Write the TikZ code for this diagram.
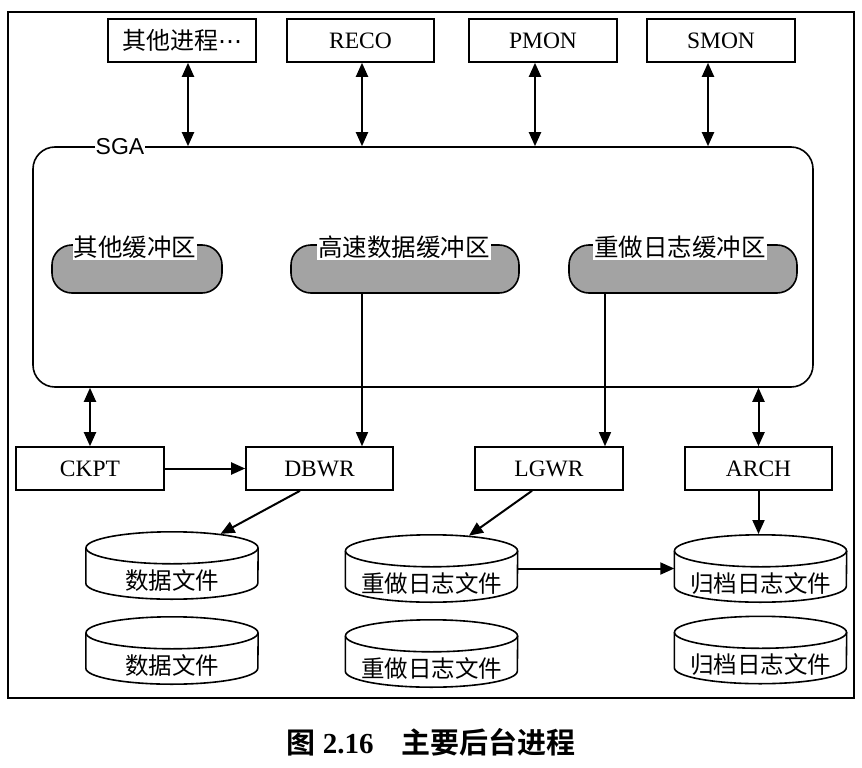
\documentclass[tikz,border=0pt]{standalone}
\usepackage{fontspec}
\setmainfont{Liberation Serif}
\newfontfamily\cjk{Noto Sans CJK SC}[BoldFont={Noto Sans CJK SC Bold}]
\newfontfamily\arialf{Liberation Sans}
\newfontfamily\djv{DejaVu Sans}
\usetikzlibrary{arrows.meta,shapes.geometric,calc}
\begin{document}
\begin{tikzpicture}[x=1pt,y=-1pt,
  proc/.style={draw, line width=1.6pt, minimum width=148pt, minimum height=43pt, inner sep=0pt, font=\fontsize{23.5}{23.5}\selectfont},
  arr/.style={line width=2pt, -{Triangle[length=14pt,width=12pt]}},
  darr/.style={line width=2pt, {Triangle[length=14pt,width=12pt]}-{Triangle[length=14pt,width=12pt]}},
  thinarr/.style={line width=1.2pt, -{Triangle[length=14pt,width=12pt]}},
  buf/.style={draw, line width=1.6pt, fill=black!36, rounded corners=20pt, minimum height=48pt, inner sep=0pt},
  buflabel/.style={fill=white, inner xsep=1pt, inner ysep=2pt, font=\cjk\fontsize{24.5}{24.5}\selectfont},
  cylbody/.style={minimum width=172pt, minimum height=35pt, inner sep=0pt},
  cyltop/.style={ellipse, draw, line width=1.6pt, fill=white, minimum width=172pt, minimum height=32pt, inner sep=0pt},
  cyltext/.style={font=\cjk\fontsize{23.5}{23.5}\selectfont},
]
\useasboundingbox (0,0) rectangle (862,768);

\newcommand\mycyl[3]{%
  \node[cylbody] (#1) at #2 {};
  \draw[line width=1.6pt, fill=white] (#1.north west) -- (#1.south west)
     arc[start angle=180, end angle=360, x radius=86pt, y radius=16pt] -- (#1.north east);
  \node[cyltop] (#1top) at (#1.north) {};
  \node[cyltext] (#1txt) at ([yshift=-15pt]#1.center) {#3};
}

% outer frame
\node[draw, line width=1.4pt, minimum width=846pt, minimum height=686pt, inner sep=0pt] (frame) at (431,355) {};

% top processes
\node[proc] (other) at (182,40.5) {{\cjk\fontsize{24}{24}\selectfont 其他进程}{\djv\fontsize{24}{24}\selectfont ⋯}};
\node[proc, minimum width=147pt] (reco) at (360.5,40.5) {RECO};
\node[proc] (pmon) at (543,40.5) {PMON};
\node[proc] (smon) at (721,40.5) {SMON};

% SGA
\node[draw, line width=1.6pt, rounded corners=22pt, minimum width=780pt, minimum height=240pt, inner sep=0pt] (sga) at (423,267) {};
\node[fill=white, inner xsep=1pt, inner ysep=1pt, font=\arialf\fontsize{23}{23}\selectfont] (sgal) at (120,147) {SGA};

\coordinate (x1) at (188,0);
\coordinate (x2) at (362,0);
\coordinate (x3) at (535,0);
\coordinate (x4) at (708,0);
\draw[darr] (other.south -| x1) -- (sga.north -| x1);
\draw[darr] (reco.south -| x2) -- (sga.north -| x2);
\draw[darr] (pmon.south -| x3) -- (sga.north -| x3);
\draw[darr] (smon.south -| x4) -- (sga.north -| x4);

% buffers
\node[buf, minimum width=170pt] (buf1) at (137,269) {};
\node[buf, minimum width=228pt] (buf2) at (405,269) {};
\node[buf, minimum width=228pt] (buf3) at (683,269) {};
\node[buflabel] (bl1) at (135,247) {其他缓冲区};
\node[buflabel] (bl2) at (404,247) {高速数据缓冲区};
\node[buflabel] (bl3) at (680,247) {重做日志缓冲区};

% process row
\node[proc] (ckpt) at (90,468.5) {CKPT};
\node[proc, minimum width=147pt] (dbwr) at (319.5,468.5) {DBWR};
\node[proc] (lgwr) at (549,468.5) {LGWR};
\node[proc, minimum width=147pt] (arch) at (758.5,468.5) {ARCH};

\coordinate (xd) at (362,0);
\coordinate (xl) at (605,0);
\draw[thinarr] (buf2.south -| xd) -- (dbwr.north -| xd);
\draw[thinarr] (buf3.south -| xl) -- (lgwr.north -| xl);
\draw[darr] (sga.south -| ckpt) -- (ckpt.north);
\draw[darr] (sga.south -| arch) -- (arch.north);
\draw[arr] (ckpt) -- (dbwr);

% cylinders
\mycyl{a1}{(172,565.5)}{数据文件}
\mycyl{a2}{(172,650.5)}{数据文件}
\mycyl{b1}{(431.5,568.5)}{重做日志文件}
\mycyl{b2}{(431.5,653.5)}{重做日志文件}
\mycyl{c1}{(760.5,568.5)}{归档日志文件}
\mycyl{c2}{(760.5,650)}{归档日志文件}

\coordinate (xs1) at (300,0);
\coordinate (xs2) at (532,0);
\draw[arr] (dbwr.south -| xs1) -- (a1top.16);
\draw[arr] (lgwr.south -| xs2) -- (b1top.22);
\draw[arr] (arch.south) -- (c1top.north -| arch);
\draw[arr] (b1.east) -- (c1.west);

% caption
\node[font=\fontsize{29}{29}\selectfont] (cap) at (431,742) {{\cjk\bfseries 图} \textbf{2.16}\hspace{28pt}{\cjk\bfseries 主要后台进程}};
\end{tikzpicture}
\end{document}
